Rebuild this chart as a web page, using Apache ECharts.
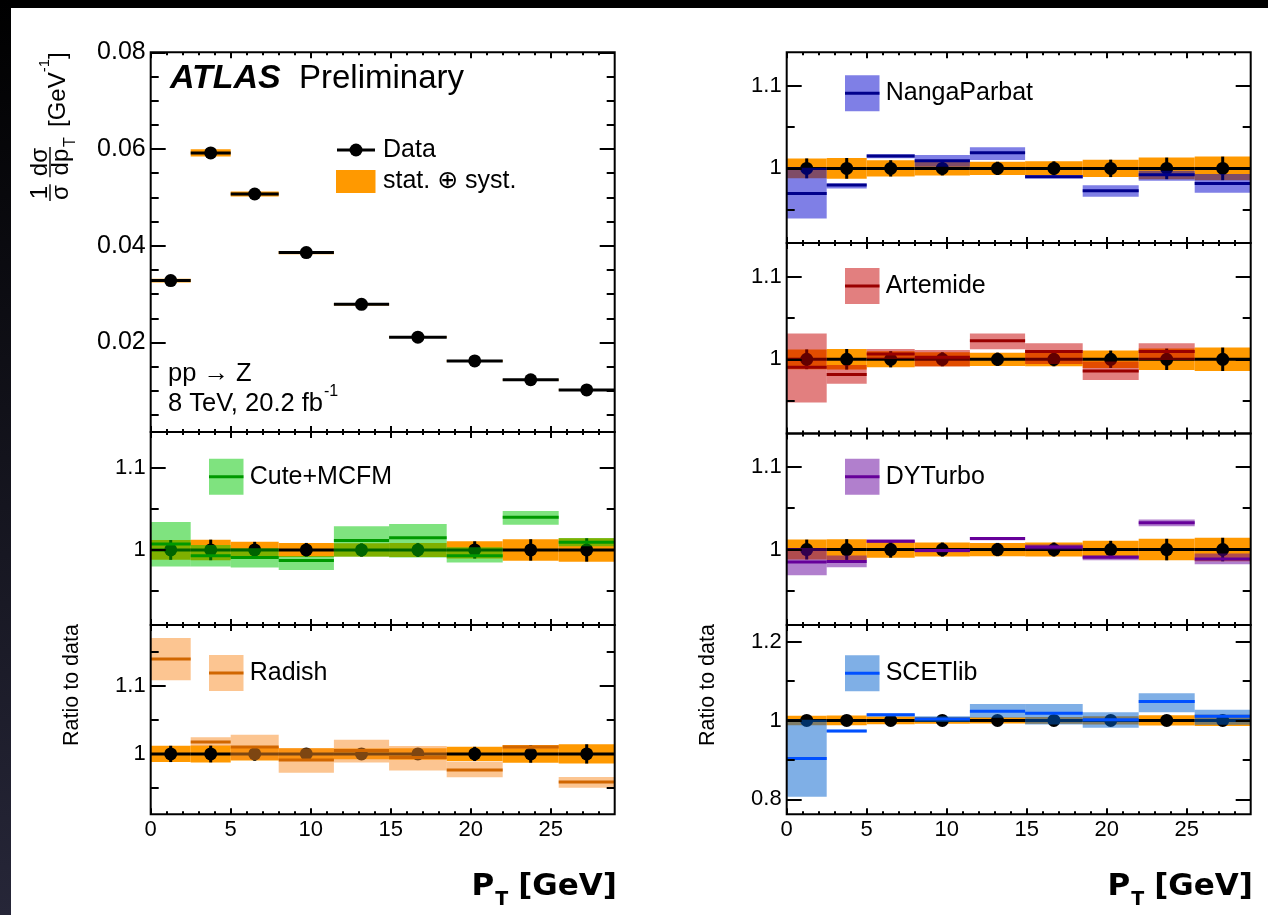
<!DOCTYPE html>
<html><head><meta charset="utf-8">
<script src="https://cdn.jsdelivr.net/npm/echarts@6/dist/echarts.min.js"></script>
<style>html,body{margin:0;padding:0;background:#fff;}#c{width:1268px;height:915px;}</style>
</head><body><div id="c"></div>
<script>
// ---------------- DATA ----------------
const binEdges = [0, 2.5, 5, 8, 11.45, 14.9, 18.5, 22, 25.5, 29];
const xTickLabels = [0, 5, 10, 15, 20, 25];
const spectrumTickLabels = [0.02, 0.04, 0.06, 0.08];
const ratioTickLabels = [1, 1.1];
const scetTickLabels = [0.8, 1, 1.2];

const dataSpectrum = [0.0328, 0.0592, 0.0507, 0.0386, 0.0279, 0.0211, 0.0162, 0.0123, 0.0102];
const dataRelUnc   = [0.012, 0.0125, 0.0098, 0.0085, 0.008, 0.0085, 0.0105, 0.013, 0.0142];

const cuteMid = [1.0073, 0.9931, 0.9907, 0.9871, 1.0113, 1.0149, 0.9931, 1.0395, 1.0093];
const cuteLo  = [0.9798, 0.9798, 0.9786, 0.9758, 0.9919, 0.9907, 0.9847, 1.0306, 1.0044];
const cuteHi  = [1.0339, 1.0060, 1.0020, 0.9927, 1.0286, 1.0314, 1.0032, 1.0472, 1.0145];

const radishMid = [1.1399, 1.0177, 1.0103, 0.9911, 1.0049, 0.9946, 0.9764, 1.0103, 0.9586];
const radishLo  = [1.1084, 1.0118, 0.9911, 0.9724, 0.9872, 0.9754, 0.9655, 1.0069, 0.9502];
const radishHi  = [1.1709, 1.0246, 1.0281, 1.0084, 1.0207, 1.0118, 0.9887, 1.0133, 0.9660];

const nangaMid = [0.9698, 0.9799, 1.0149, 1.0093, 1.0189, 0.9899, 0.9730, 0.9923, 0.9819];
const nangaLo  = [0.9396, 0.9758, 1.0121, 1.0020, 1.0101, 0.9879, 0.9657, 0.9851, 0.9706];
const nangaHi  = [1.0008, 0.9819, 1.0169, 1.0161, 1.0254, 0.9919, 0.9798, 0.9972, 0.9931];

const artemideMid = [0.9903, 0.9815, 1.0064, 1.0024, 1.0226, 1.0093, 0.9859, 1.0093, null];
const artemideLo  = [0.9476, 0.9702, 1.0004, 0.9911, 1.0121, 0.9944, 0.9750, 0.9992, null];
const artemideHi  = [1.0314, 0.9931, 1.0125, 1.0113, 1.0314, 1.0193, 0.9972, 1.0193, null];

const dyturboMid = [0.9851, 0.9855, 1.0101, 0.9988, 1.0133, 1.0032, 0.9907, 1.0322, 0.9887];
const dyturboLo  = [0.9690, 0.9786, 1.0081, 0.9968, 1.0113, 1.0000, 0.9871, 1.0282, 0.9823];
const dyturboHi  = [1.0020, 0.9927, 1.0121, 1.0008, 1.0153, 1.0060, 0.9931, 1.0363, 0.9952];

const scetMid = [0.9034, 0.9731, 1.0143, 1.0034, 1.0235, 1.0185, 1.0017, 1.0479, 1.0109];
const scetLo  = [0.8068, 0.9698, 1.0101, 0.9958, 1.0067, 0.9899, 0.9815, 1.0210, 0.9891];
const scetHi  = [1.0017, 0.9765, 1.0176, 1.0109, 1.0420, 1.0420, 1.0210, 1.0689, 1.0269];

// ---------------- LAYOUT / STYLE ----------------
const FONT = '"Liberation Sans", Arial, "DejaVu Sans", sans-serif';
const ORANGE = '#ff9900';
const COLX = {left: 150.7, right: 786.7};
const PW = 464;
const panels = [
  {x: COLX.left,  top: 52.3,  bottom: 432,   ymin: 0.0015, ymax: 0.08,  ticks: spectrumTickLabels, step: 0.005, spectrum: true, labelSize: 25},
  {x: COLX.left,  top: 432,   bottom: 625,   ymin: 0.909,  ymax: 1.143, ticks: ratioTickLabels, step: 0.05,
   name: 'Cute+MCFM', mid: cuteMid, lo: cuteLo, hi: cuteHi, band: 'rgba(0,200,0,0.5)', line: '#009900', legY: 476.7},
  {x: COLX.left,  top: 625,   bottom: 814.3, ymin: 0.911,  ymax: 1.19,  ticks: ratioTickLabels, step: 0.05, showX: true,
   name: 'Radish', mid: radishMid, lo: radishLo, hi: radishHi, band: 'rgba(250,140,35,0.5)', line: '#d06600', legY: 673},
  {x: COLX.right, top: 52.3,  bottom: 243,   ymin: 0.91,   ymax: 1.14,  ticks: ratioTickLabels, step: 0.05,
   name: 'NangaParbat', mid: nangaMid, lo: nangaLo, hi: nangaHi, band: 'rgba(0,0,205,0.5)', line: '#00008b', legY: 93.3},
  {x: COLX.right, top: 243,   bottom: 433.5, ymin: 0.91,   ymax: 1.141, ticks: ratioTickLabels, step: 0.05,
   name: 'Artemide', mid: artemideMid, lo: artemideLo, hi: artemideHi, band: 'rgba(198,0,0,0.5)', line: '#990000', legY: 286},
  {x: COLX.right, top: 433.5, bottom: 625,   ymin: 0.909,  ymax: 1.14,  ticks: ratioTickLabels, step: 0.05,
   name: 'DYTurbo', mid: dyturboMid, lo: dyturboLo, hi: dyturboHi, band: 'rgba(100,0,155,0.5)', line: '#660099', legY: 476.7},
  {x: COLX.right, top: 625,   bottom: 814.3, ymin: 0.762,  ymax: 1.242, ticks: scetTickLabels, step: 0.1, showX: true,
   name: 'SCETlib', mid: scetMid, lo: scetLo, hi: scetHi, band: 'rgba(0,96,205,0.5)', line: '#0050ff', legY: 673.3}
];

const centers = binEdges.slice(0, -1).map((e, i) => (e + binEdges[i + 1]) / 2);
const xMinor = [];
for (let k = 1; k < 29; k++) if (k % 5 !== 0) xMinor.push(k);

const ctx = document.createElement('canvas').getContext('2d');
function tw(t, f) { ctx.font = f; return ctx.measureText(t).width; }

const grids = [], xAxes = [], yAxes = [], series = [];

function rectRender(fill) {
  return function (params, api) {
    const a = api.coord([api.value(0), api.value(3)]);
    const b = api.coord([api.value(1), api.value(2)]);
    return {type: 'rect', shape: {x: a[0], y: a[1], width: b[0] - a[0], height: b[1] - a[1]}, style: {fill: fill}};
  };
}
function hRender(color, w) {
  return function (params, api) {
    const a = api.coord([api.value(0), api.value(2)]);
    const b = api.coord([api.value(1), api.value(2)]);
    return {type: 'line', shape: {x1: a[0], y1: a[1], x2: b[0], y2: b[1]}, style: {stroke: color, lineWidth: w}};
  };
}
function vRender(color, w) {
  return function (params, api) {
    const a = api.coord([api.value(0), api.value(1)]);
    const b = api.coord([api.value(0), api.value(2)]);
    return {type: 'line', shape: {x1: a[0], y1: a[1], x2: b[0], y2: b[1]}, style: {stroke: color, lineWidth: w}};
  };
}

panels.forEach((p, gi) => {
  grids.push({left: p.x, top: p.top, width: PW, height: p.bottom - p.top, show: true,
    borderColor: '#000', borderWidth: 2, backgroundColor: 'transparent', z: 10, outerBoundsMode: 'none'});
  const minors = [];
  for (let k = Math.ceil(p.ymin / p.step - 1e-9); k <= Math.floor(p.ymax / p.step + 1e-9); k++) {
    const v = Math.round(k * p.step * 1e6) / 1e6;
    if (!p.ticks.some(t => Math.abs(t - v) < 1e-9)) minors.push(v);
  }
  const xi = xAxes.length, yi = yAxes.length;
  const mkX = (pos, vals, len, labels) => ({
    type: 'value', gridIndex: gi, position: pos, min: 0, max: 29, z: 11,
    axisLine: {show: false, onZero: false}, splitLine: {show: false},
    axisTick: {show: true, inside: true, length: len, customValues: vals, lineStyle: {color: '#000', width: 2}},
    axisLabel: labels ? {show: true, customValues: xTickLabels, fontSize: 22, color: '#000', fontFamily: FONT, margin: 5,
      formatter: v => String(v)} : {show: false}
  });
  xAxes.push(mkX('bottom', xTickLabels, 6, !!p.showX), mkX('bottom', xMinor, 3, false),
             mkX('top', xTickLabels, 6, false), mkX('top', xMinor, 3, false));
  const mkY = (pos, vals, len, labels) => ({
    type: 'value', gridIndex: gi, position: pos, min: p.ymin, max: p.ymax, z: 11,
    axisLine: {show: false, onZero: false}, splitLine: {show: false},
    axisTick: {show: true, inside: true, length: len, customValues: vals, lineStyle: {color: '#000', width: 2}},
    axisLabel: labels ? {show: true, customValues: p.ticks, fontSize: p.labelSize || 22, color: '#000', fontFamily: FONT, margin: 5,
      formatter: v => String(v)} : {show: false}
  });
  yAxes.push(mkY('left', p.ticks, 15, true), mkY('left', minors, 8, false),
             mkY('right', p.ticks, 15, false), mkY('right', minors, 8, false));

  const vals = p.spectrum ? dataSpectrum : dataSpectrum.map(() => 1);
  const base = {xAxisIndex: xi, yAxisIndex: yi, silent: true, clip: false, animation: false};
  series.push(Object.assign({type: 'custom', z: 1, renderItem: rectRender(ORANGE),
    data: vals.map((v, i) => [binEdges[i], binEdges[i + 1], v * (1 - dataRelUnc[i]), v * (1 + dataRelUnc[i])])}, base));
  series.push(Object.assign({type: 'custom', z: 2, renderItem: hRender('#000', 3),
    data: vals.map((v, i) => [binEdges[i], binEdges[i + 1], v])}, base));
  series.push(Object.assign({type: 'custom', z: 3, renderItem: vRender('#000', 3),
    data: vals.map((v, i) => [centers[i], v * (1 - dataRelUnc[i]), v * (1 + dataRelUnc[i])])}, base));
  series.push(Object.assign({type: 'scatter', z: 4, symbol: 'circle', symbolSize: 13, itemStyle: {color: '#000', opacity: 1},
    data: vals.map((v, i) => [centers[i], v])}, base));
  if (!p.spectrum) {
    const bandData = [], lineData = [];
    p.mid.forEach((m, i) => {
      if (m === null) return;
      bandData.push([binEdges[i], binEdges[i + 1], p.lo[i], p.hi[i]]);
      lineData.push([binEdges[i], binEdges[i + 1], m]);
    });
    series.push(Object.assign({type: 'custom', z: 5, renderItem: rectRender(p.band), data: bandData}, base));
    series.push(Object.assign({type: 'custom', z: 6, renderItem: hRender(p.line, 3), data: lineData}, base));
  }
});

// ---------------- GRAPHICS (text, legends) ----------------
const graphic = [];
graphic.push({type: 'rect', shape: {x: 0, y: 0, width: 1268, height: 8}, style: {fill: '#000'}, z: 20});
graphic.push({type: 'rect', shape: {x: 0, y: 0, width: 11, height: 915},
  style: {fill: new echarts.graphic.LinearGradient(0, 0, 0, 1, [{offset: 0, color: '#000'}, {offset: 1, color: '#262638'}])}, z: 20});

function txt(x, y, text, size, opts) {
  return Object.assign({type: 'text', x: x, y: y, z: 30,
    style: Object.assign({text: text, fontSize: size, fontFamily: FONT, fill: '#000', align: 'left', verticalAlign: 'middle'}, opts || {})});
}
// ATLAS label
graphic.push(txt(170, 79, 'ATLAS', 34, {fontWeight: 'bold', fontStyle: 'italic'}));
graphic.push(txt(299, 79, 'Preliminary', 33));
// data legend
graphic.push({type: 'line', shape: {x1: 337, y1: 150, x2: 375, y2: 150}, style: {stroke: '#000', lineWidth: 3}, z: 30});
graphic.push({type: 'circle', shape: {cx: 356, cy: 150, r: 6.5}, style: {fill: '#000'}, z: 30});
graphic.push(txt(383, 150, 'Data', 25));
graphic.push({type: 'rect', shape: {x: 336, y: 170, width: 39.5, height: 23}, style: {fill: ORANGE}, z: 30});
graphic.push(txt(383, 181, 'stat. \u2295 syst.', 25));
// process label
graphic.push(txt(168, 374, 'pp \u2192 Z', 25.5));
const lumiTxt = '8 TeV, 20.2 fb';
graphic.push(txt(168, 404, lumiTxt, 25.5));
graphic.push(txt(168 + tw(lumiTxt, '25.5px ' + FONT) + 1, 392, '-1', 16));

// model legends
panels.forEach(p => {
  if (p.spectrum) return;
  const bx = p.x + 58.3;
  graphic.push({type: 'rect', shape: {x: bx, y: p.legY - 18, width: 34.5, height: 36}, style: {fill: p.band}, z: 30});
  graphic.push({type: 'line', shape: {x1: bx, y1: p.legY, x2: bx + 34.5, y2: p.legY}, style: {stroke: p.line, lineWidth: 3}, z: 31});
  graphic.push(txt(p.x + 99, p.legY, p.name, 25));
});

// Ratio to data labels
graphic.push(txt(72, 685, 'Ratio to data', 21.5, {align: 'center'}));
graphic[graphic.length - 1].rotation = Math.PI / 2;
graphic.push(txt(708, 685, 'Ratio to data', 21.5, {align: 'center'}));
graphic[graphic.length - 1].rotation = Math.PI / 2;

// y title of the spectrum panel (rotated group)
(function () {
  const fs = 24;
  const fF = fs + 'px ' + FONT;
  const ch = [];
  const t = (x, y, s, size, al) => ({type: 'text', x: x, y: y,
    style: {text: s, fontSize: size, fontFamily: FONT, fill: '#000', align: al || 'center', verticalAlign: 'middle'}});
  const a = 1;
  const w1 = Math.max(tw('1', fF), tw('\u03c3', fF));
  ch.push(t(a + w1 / 2, -10, '1', fs), t(a + w1 / 2, 11, '\u03c3', fs));
  ch.push({type: 'line', shape: {x1: a - 1, y1: 0, x2: a + w1 + 1, y2: 0}, style: {stroke: '#000', lineWidth: 1.4}});
  const b = a + w1 + 9;
  const w2 = Math.max(tw('d\u03c3', fF), tw('dp', fF));
  ch.push(t(b + w2 / 2, -10, 'd\u03c3', fs), t(b + w2 / 2, 11, 'dp', fs));
  ch.push({type: 'line', shape: {x1: b - 1, y1: 0, x2: b + w2 + 1, y2: 0}, style: {stroke: '#000', lineWidth: 1.4}});
  ch.push(t(b + w2 + 1, 21, 'T', 16, 'left'));
  const c = b + w2 + 21;
  const wG = tw('[GeV', '24px ' + FONT);
  ch.push(t(c, 8.5, '[GeV', 24, 'left'));
  ch.push(t(c + wG, -5, '-1', 15, 'left'));
  ch.push(t(c + wG + tw('-1', '15px ' + FONT), 8.5, ']', 24, 'left'));
  graphic.push({type: 'group', x: 50, y: 201, rotation: Math.PI / 2, z: 30, children: ch});
})();

// x titles P_T [GeV]
function xTitle(R) {
  const fB = 'bold 31px "DejaVu Sans"';
  const wG = tw('[GeV]', fB);
  const wT = tw('T', 'bold 19px "DejaVu Sans"');
  const mk = (x, y, s, size) => ({type: 'text', x: x, y: y, z: 30,
    style: {text: s, fontSize: size, fontWeight: 'bold', fontFamily: '"DejaVu Sans"', fill: '#000', align: 'right', verticalAlign: 'middle'}});
  graphic.push(mk(R, 887, '[GeV]', 31));
  graphic.push(mk(R - wG - 10, 900, 'T', 19));
  graphic.push(mk(R - wG - 10 - wT - 1, 887, 'P', 31));
}
xTitle(617);
xTitle(1253);

const chart = echarts.init(document.getElementById('c'), null, {renderer: 'canvas', width: 1268, height: 915});
chart.setOption({
  animation: false,
  backgroundColor: '#fff',
  grid: grids,
  xAxis: xAxes,
  yAxis: yAxes,
  series: series,
  graphic: graphic
});
</script></body></html>
